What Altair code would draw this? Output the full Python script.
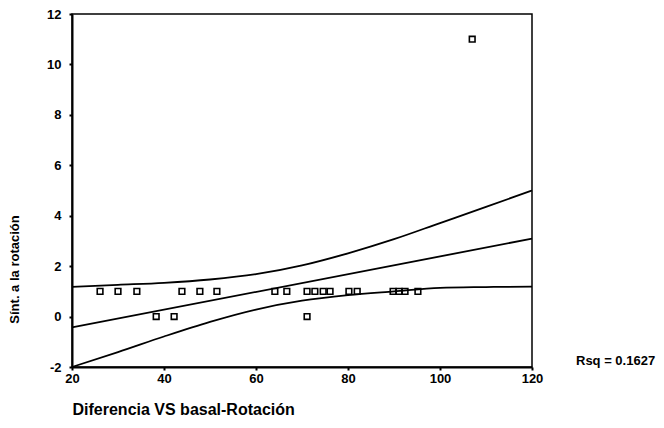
import altair as alt
import pandas as pd

# Scatter points
PX = [26.1, 30.0, 34.1, 38.3, 42.2, 43.9, 47.8, 51.5, 64.1, 66.7, 71.1, 71.1,
      72.8, 74.6, 76.1, 80.2, 82.0, 89.8, 91.1, 92.4, 95.2, 107.0]
PY = [1, 1, 1, 0, 0, 1, 1, 1, 1, 1, 1, 0,
      1, 1, 1, 1, 1, 1, 1, 1, 1, 11]

# Fitted line (read at the ends of the x range)
FIT_X = [20, 120]
FIT_Y = [-0.43, 3.09]

# Confidence band curves
CI_X = [20, 30, 40, 50, 60, 70, 80, 90, 100, 110, 120]
CI_UPPER = [1.18, 1.26, 1.34, 1.47, 1.68, 2.03, 2.51, 3.07, 3.71, 4.35, 5.00]
CI_LOWER = [-2.0, -1.41, -0.79, -0.21, 0.28, 0.63, 0.85, 1.00, 1.14, 1.17, 1.19]

X_TICKS = [20, 40, 60, 80, 100, 120]
Y_TICKS = [-2, 0, 2, 4, 6, 8, 10, 12]
X_TITLE = "Diferencia VS basal-Rotación"
Y_TITLE = "Sínt. a la rotación"
RSQ_LABEL = "Rsq = 0.1627"

FONT = "Liberation Sans"

pts = pd.DataFrame({"x": PX, "y": PY})
lines = pd.concat([
    pd.DataFrame({"x": FIT_X, "y": FIT_Y, "s": "fit"}),
    pd.DataFrame({"x": CI_X, "y": CI_UPPER, "s": "upper"}),
    pd.DataFrame({"x": CI_X, "y": CI_LOWER, "s": "lower"}),
], ignore_index=True)

xscale = alt.Scale(domain=[20, 120], nice=False, zero=False)
yscale = alt.Scale(domain=[-2, 12], nice=False, zero=False)

xaxis = alt.Axis(
    values=X_TICKS, grid=False, title=X_TITLE,
    labelExpr="'' + datum.value",
    labelFont=FONT, labelFontSize=13, labelFontWeight="bold", labelColor="black",
    labelFlush=False, labelPadding=2,
    tickColor="black", tickSize=3, tickWidth=2,
    domainColor="black", domainWidth=2,
    titleFont=FONT, titleFontSize=16, titleFontWeight="bold", titleColor="black",
    titleX=0, titleY=42, titleAlign="left", titleBaseline="middle", titleAnchor="start",
)
yaxis = alt.Axis(
    values=Y_TICKS, grid=False, title=Y_TITLE,
    labelExpr="'' + datum.value",
    labelFont=FONT, labelFontSize=13, labelFontWeight="bold", labelColor="black",
    labelPadding=8,
    tickColor="black", tickSize=3, tickWidth=2,
    domainColor="black", domainWidth=2,
    titleFont=FONT, titleFontSize=13, titleFontWeight="bold", titleColor="black",
    titleX=-58, titleY=255, titleAngle=270, titleAlign="center", titleBaseline="middle",
)

line_layer = alt.Chart(lines).mark_line(color="black", strokeWidth=1.8, interpolate="monotone").encode(
    x=alt.X("x:Q", scale=xscale, axis=xaxis),
    y=alt.Y("y:Q", scale=yscale, axis=yaxis),
    detail="s:N",
)

pt_layer = alt.Chart(pts).mark_point(shape="square", filled=False, color="black",
                                     size=32, strokeWidth=1.6, opacity=1).encode(
    x=alt.X("x:Q", scale=xscale),
    y=alt.Y("y:Q", scale=yscale),
)

rsq = alt.Chart(pd.DataFrame({"t": [RSQ_LABEL]})).mark_text(
    align="left", baseline="middle", font=FONT, fontSize=13, fontWeight="bold", color="black"
).encode(x=alt.value(504), y=alt.value(347), text="t:N")

chart = alt.layer(line_layer, pt_layer, rsq).properties(
    width=460, height=353,
    autosize=alt.AutoSizeParams(type="none"),
    padding={"left": 72, "top": 14, "right": 132, "bottom": 61},
    background="white",
).configure_view(stroke="black", strokeWidth=1.5)

chart.save("out.html", embed_options={"renderer": "svg", "actions": False})
